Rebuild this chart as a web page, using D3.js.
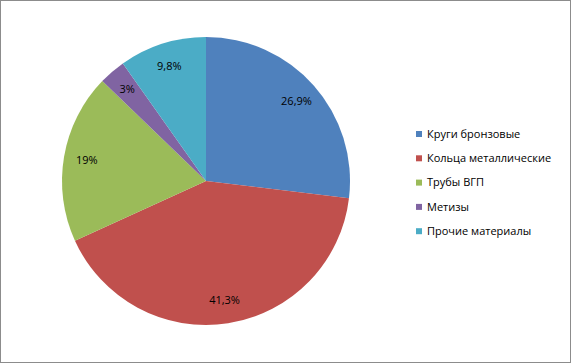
<!DOCTYPE html>
<html><head><meta charset="utf-8">
<script src="https://cdn.jsdelivr.net/npm/d3@7"></script>
<style>html,body{margin:0;padding:0;background:#fff}svg{display:block}</style>
</head><body>
<script>
const categories = ["Круги бронзовые","Кольца металлические","Трубы ВГП","Метизы","Прочие материалы"];
const values = [26.9, 41.3, 19, 3, 9.8];
const labels = ["26,9%","41,3%","19%","3%","9,8%"];
const colors = ["#4F81BD","#C0504D","#9BBB59","#8064A2","#4BACC6"];

const W = 572, H = 364;
const svg = d3.select("body").append("svg").attr("width", W).attr("height", H);
svg.append("rect").attr("x",0.5).attr("y",0.5).attr("width",570).attr("height",362)
  .attr("fill","#fff").attr("stroke","#8c8c8c");

const cx = 206, cy = 181, R = 144;
const pie = d3.pie().sort(null).value(d => d)(values);
const arc = d3.arc().innerRadius(0).outerRadius(R);
const labelArc = d3.arc().innerRadius(R*0.84).outerRadius(R*0.84);
const g = svg.append("g").attr("transform", `translate(${cx},${cy})`);
g.selectAll("path").data(pie).join("path").attr("d", arc).attr("fill", (d,i) => colors[i]);
g.selectAll("text").data(pie).join("text")
  .attr("transform", d => `translate(${labelArc.centroid(d)})`)
  .attr("text-anchor","middle").attr("dy","0.35em")
  .attr("font-family","'Open Sans', sans-serif").attr("font-size",11).attr("fill","#000")
  .text((d,i) => labels[i]);

const leg = svg.append("g").attr("transform","translate(416,134)");
const rowH = 24.3;
const items = leg.selectAll("g").data(categories).join("g")
  .attr("transform",(d,i)=>`translate(0,${i*rowH})`);
items.append("rect").attr("x",0).attr("y",-3).attr("width",6).attr("height",6).attr("fill",(d,i)=>colors[i]);
items.append("text").attr("x",11).attr("dy","0.35em")
  .attr("font-family","'Open Sans', sans-serif").attr("font-size",11).attr("fill","#000")
  .text(d=>d);
</script>
</body></html>
